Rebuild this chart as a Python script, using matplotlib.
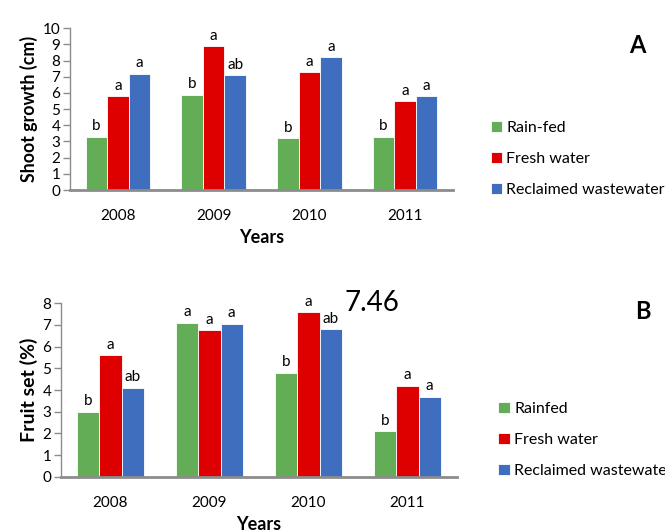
import matplotlib
matplotlib.use("Agg")
import matplotlib.pyplot as plt
import numpy as np

plt.rcParams['font.family'] = ['Lato', 'DejaVu Sans']

years = ['2008', '2009', '2010', '2011']

# Panel A: shoot growth (cm)
shoot_rainfed = [3.3, 5.9, 3.2, 3.3]
shoot_fresh = [5.8, 8.9, 7.3, 5.5]
shoot_reclaimed = [7.2, 7.1, 8.2, 5.8]
shoot_letters_rainfed = ['b', 'b', 'b', 'b']
shoot_letters_fresh = ['a', 'a', 'a', 'a']
shoot_letters_reclaimed = ['a', 'ab', 'a', 'a']

# Panel B: fruit set (%)
fruit_rainfed = [3.0, 7.1, 4.8, 2.1]
fruit_fresh = [5.6, 6.75, 7.6, 4.2]
fruit_reclaimed = [4.1, 7.05, 6.8, 3.7]
fruit_letters_rainfed = ['b', 'a', 'b', 'b']
fruit_letters_fresh = ['a', 'a', 'a', 'a']
fruit_letters_reclaimed = ['ab', 'a', 'ab', 'a']

GREEN = '#63AD56'
RED = '#DE0000'
BLUE = '#3F6EBE'
AXIS_GRAY = '#8C8C8C'

fig = plt.figure(figsize=(6.65, 5.3), dpi=100)


def draw_panel(ax, series, letters, labels, ymax, ylabel, letter_pad, ylabel_size):
    x = np.arange(len(years))
    w = 0.225
    colors = [GREEN, RED, BLUE]
    handles = []
    for i, (vals, lets, col, lab) in enumerate(zip(series, letters, colors, labels)):
        pos = x + (i - 1) * w
        b = ax.bar(pos, vals, width=w, color=col, edgecolor='white',
                   linewidth=0.6, label=lab, zorder=2)
        handles.append(b)
        for p, v, t in zip(pos, vals, lets):
            ax.text(p, v + letter_pad, t, ha='center', va='bottom',
                    fontsize=11, color='black')
    ax.set_xlim(-0.5, len(years) - 0.5)
    ax.set_ylim(0, ymax)
    ax.set_yticks(range(0, ymax + 1))
    ax.set_xticks(x)
    ax.set_xticklabels(years, fontsize=11)
    ax.tick_params(axis='y', labelsize=11, length=5, width=1,
                   color=AXIS_GRAY, pad=2)
    ax.tick_params(axis='x', length=0, pad=14)
    for s in ('top', 'right'):
        ax.spines[s].set_visible(False)
    ax.spines['left'].set_color(AXIS_GRAY)
    ax.spines['left'].set_linewidth(1.0)
    ax.spines['bottom'].set_color(AXIS_GRAY)
    ax.spines['bottom'].set_linewidth(2.0)
    ax.set_ylabel(ylabel, fontsize=ylabel_size, fontweight='bold', labelpad=3)
    ax.set_xlabel('Years', fontsize=13, fontweight='bold', labelpad=4)
    return handles


axA = fig.add_axes([0.1053, 0.6415, 0.5757, 0.3051])
hA = draw_panel(axA, [shoot_rainfed, shoot_fresh, shoot_reclaimed],
                [shoot_letters_rainfed, shoot_letters_fresh, shoot_letters_reclaimed],
                ['Rain-fed', 'Fresh water', 'Reclaimed wastewater'],
                10, 'Shoot growth (cm)', 0.2, 12.8)
axA.legend(handles=hA, loc='center left', bbox_to_anchor=(0.728, 0.70),
           bbox_transform=fig.transFigure, frameon=False, fontsize=11.5,
           handlelength=0.7, handleheight=0.7, handletextpad=0.3,
           labelspacing=1.05, borderaxespad=0)
fig.text(0.958, 0.915, 'A', fontsize=17, fontweight='bold', ha='center', va='center')

axB = fig.add_axes([0.0917, 0.1006, 0.5955, 0.3271])
hB = draw_panel(axB, [fruit_rainfed, fruit_fresh, fruit_reclaimed],
                [fruit_letters_rainfed, fruit_letters_fresh, fruit_letters_reclaimed],
                ['Rainfed', 'Fresh water', 'Reclaimed wastewater'],
                8, 'Fruit set (%)', 0.16, 14)
axB.legend(handles=hB, loc='center left', bbox_to_anchor=(0.74, 0.17),
           bbox_transform=fig.transFigure, frameon=False, fontsize=11.5,
           handlelength=0.7, handleheight=0.7, handletextpad=0.3,
           labelspacing=1.05, borderaxespad=0)
fig.text(0.967, 0.413, 'B', fontsize=17, fontweight='bold', ha='center', va='center')
fig.text(0.56, 0.428, '7.46', fontsize=20, ha='center', va='center')

fig.savefig('out.png', dpi=100)
